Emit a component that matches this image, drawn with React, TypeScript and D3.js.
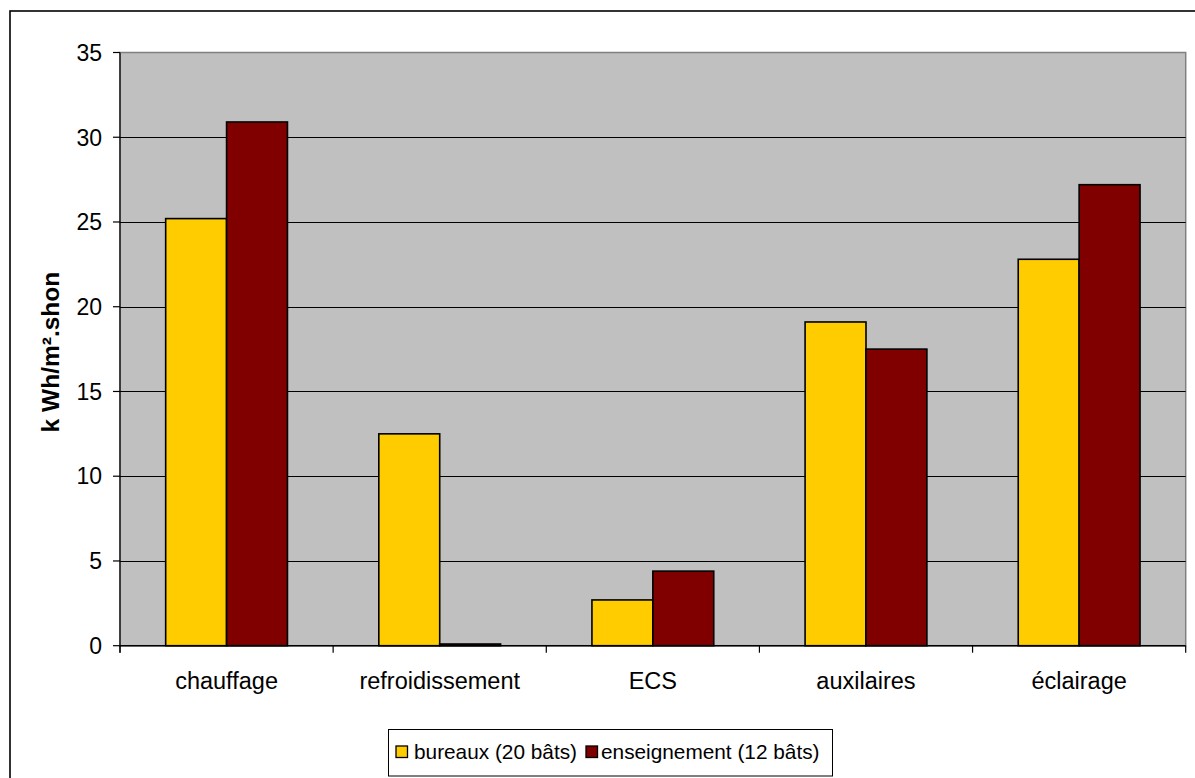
import React from "react";
import * as d3 from "d3";

// Energy use by end-use, kWh per m² of floor area (SHON)
const categories = ["chauffage", "refroidissement", "ECS", "auxilaires", "éclairage"];
const seriesNames = ["bureaux (20 bâts)", "enseignement (12 bâts)"];
const bureaux = [25.2, 12.5, 2.7, 19.1, 22.8];
const enseignement = [30.9, 0.1, 4.4, 17.5, 27.2];
const yTicks = [0, 5, 10, 15, 20, 25, 30, 35];
const colors = ["#FFCC00", "#800000"];

const W = 1195;
const H = 778;
const plot = { left: 120, right: 1185.7, top: 52.5, bottom: 645.7 };
const FONT = "'Liberation Sans', Arial, sans-serif";

export default function App() {
  const x = d3.scaleBand<string>().domain(categories).range([plot.left, plot.right]).padding(0);
  const bw = x.bandwidth();
  // gap width of 150% between groups
  const barW = bw / 3.5;
  const inner = d3
    .scaleBand<number>()
    .domain([0, 1])
    .range([barW * 0.75, barW * 2.75])
    .padding(0);
  const y = d3.scaleLinear().domain([0, 35]).range([plot.bottom, plot.top]);
  const series = [bureaux, enseignement];

  const boundaries = d3.range(categories.length + 1).map((i) => plot.left + i * bw);
  const legendSwatchX = [396, 586];
  const legendTextGap = [18, 15];

  return (
    <svg
      width={W}
      height={H}
      style={{ position: "absolute", left: 0, top: 0, background: "#fff" }}
      fontFamily={FONT}
    >
      <rect x={10} y={11} width={1300} height={900} fill="#fff" stroke="#000" strokeWidth={1.6} />
      <rect
        x={plot.left}
        y={plot.top}
        width={plot.right - plot.left}
        height={plot.bottom - plot.top}
        fill="#C0C0C0"
        stroke="#808080"
        strokeWidth={1.5}
      />
      {yTicks
        .filter((t) => t > 0 && t < 35)
        .map((t) => (
          <line
            key={"g" + t}
            x1={plot.left}
            x2={plot.right}
            y1={Math.round(y(t)) + 0.5}
            y2={Math.round(y(t)) + 0.5}
            stroke="#000"
            strokeWidth={1}
          />
        ))}
      {series.map((vals, si) =>
        vals.map((v, ci) => {
          const bx = (x(categories[ci]) as number) + (inner(si) as number);
          return (
            <rect
              key={`b${si}-${ci}`}
              x={bx}
              y={y(v)}
              width={inner.bandwidth()}
              height={y(0) - y(v)}
              fill={colors[si]}
              stroke="#000"
              strokeWidth={1.6}
            />
          );
        })
      )}
      {/* y axis */}
      <line x1={plot.left} x2={plot.left} y1={plot.top} y2={plot.bottom + 7} stroke="#000" strokeWidth={1.2} />
      {yTicks.map((t) => (
        <g key={"t" + t}>
          <line x1={plot.left - 7} x2={plot.left} y1={y(t)} y2={y(t)} stroke="#000" strokeWidth={1.2} />
          <text x={102} y={y(t)} dy="0.36em" textAnchor="end" fontSize={23} fill="#000">
            {t}
          </text>
        </g>
      ))}
      {/* x axis */}
      <line x1={plot.left} x2={plot.right} y1={plot.bottom} y2={plot.bottom} stroke="#000" strokeWidth={1.5} />
      {boundaries.map((bx, i) => (
        <line key={"xt" + i} x1={bx} x2={bx} y1={plot.bottom} y2={plot.bottom + 7} stroke="#000" strokeWidth={1.2} />
      ))}
      {categories.map((c) => (
        <text
          key={c}
          x={(x(c) as number) + bw / 2}
          y={689}
          textAnchor="middle"
          fontSize={23.5}
          fill="#000"
        >
          {c}
        </text>
      ))}
      <text
        transform={`translate(59,${(plot.top + plot.bottom) / 2 + 3}) rotate(-90)`}
        textAnchor="middle"
        fontSize={24.5}
        fontWeight="bold"
        fill="#000"
      >
        k Wh/m².shon
      </text>
      {/* legend */}
      <rect x={388.5} y={729.5} width={444} height={46.5} fill="#fff" stroke="#000" strokeWidth={1} />
      {seriesNames.map((s, i) => {
        const sx = legendSwatchX[i];
        return (
          <g key={s}>
            <rect x={sx} y={746} width={11.5} height={11.5} fill={colors[i]} stroke="#000" strokeWidth={1.3} />
            <text x={sx + legendTextGap[i]} y={752} dy="0.36em" fontSize={20.8} fill="#000">
              {s}
            </text>
          </g>
        );
      })}
    </svg>
  );
}
